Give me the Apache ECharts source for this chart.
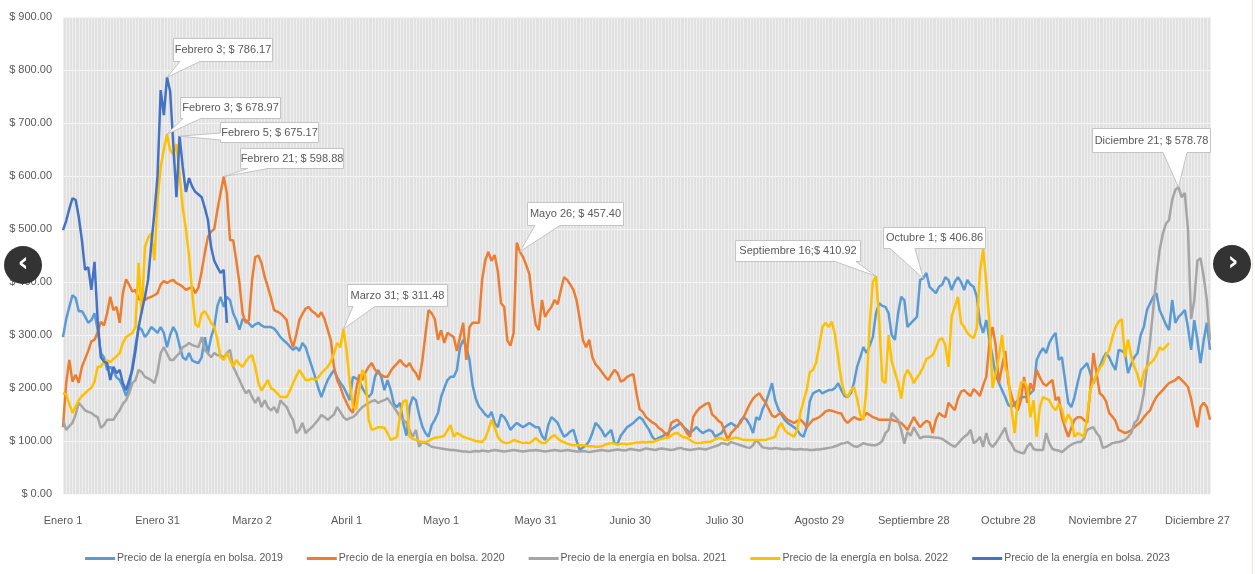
<!DOCTYPE html>
<html><head><meta charset="utf-8">
<script src="https://cdn.jsdelivr.net/npm/echarts@6/dist/echarts.min.js"></script>
<style>html,body{margin:0;padding:0;background:#fff}#c{width:1255px;height:574px}</style>
</head><body><div id="c"></div>
<script>
const monthNames = ['Enero','Febrero','Marzo','Abril','Mayo','Junio','Julio','Agosto','Septiembre','Octubre','Noviembre','Diciembre'];
const monthDays = [31,28,31,30,31,30,31,31,30,31,30,31];
const seriesNames = ['Precio de la energía en bolsa. 2019','Precio de la energía en bolsa. 2020','Precio de la energía en bolsa. 2021','Precio de la energía en bolsa. 2022','Precio de la energía en bolsa. 2023'];
const seriesColors = ['#5B9BD5','#ED7D31','#A5A5A5','#FFC000','#4472C4'];
const yTicks = [0,100,200,300,400,500,600,700,800,900];

const y2019 = [
296,330,353,375,370,345,345,335,323,328,
341,310,266,258,234,240,232,220,215,202,
185,200,240,280,315,310,296,304,315,310,
304,315,304,277,300,315,304,280,258,253,
266,252,249,247,258,296,266,296,315,355,
372,353,372,366,341,328,310,330,328,322,
315,320,323,318,315,315,315,312,305,296,
290,285,278,272,277,270,285,277,258,240,
221,200,183,200,215,225,234,220,210,202,
190,177,221,218,215,200,190,183,190,221,
234,221,196,215,196,170,164,172,134,110,
165,183,177,150,128,115,108,130,140,153,
183,200,215,221,221,234,277,291,277,253,
205,180,165,158,150,145,155,134,126,150,
145,135,121,128,134,130,126,130,134,130,
126,126,110,102,130,145,140,134,120,108,
112,118,121,100,83,88,92,100,115,134,
128,120,108,115,121,96,95,110,118,126,
130,134,140,145,140,130,121,108,102,106,
108,112,115,122,126,130,134,126,121,115,
120,126,120,115,118,121,118,108,112,115,
126,130,134,130,126,138,145,140,130,115,
145,140,160,172,190,209,177,160,150,140,
134,130,126,121,112,108,126,175,190,193,
196,190,193,196,196,200,209,196,185,183,
190,209,240,258,277,266,280,296,341,360,
355,353,341,300,291,340,372,366,315,322,
328,334,404,406.86,417,391,385,379,391,395,
409,404,385,400,409,400,385,404,395,391,
372,323,304,328,291,258,225,210,196,183,
168,164,170,177,182,183,183,190,196,253,
266,275,266,285,296,304,253,258,215,172,
164,183,210,234,240,247,228,209,225,240,
255,266,258,245,234,272,270,266,228,245,
258,266,300,315,347,360,372,379,347,334,
320,309,366,323,334,340,347,315,272,328,
291,247,290,323,272];

const y2020 = [
126,209,253,212,225,210,240,255,270,288,
291,305,325,318,341,372,347,353,323,379,
405,395,382,385,368,366,366,370,372,375,
379,395,402,398,402,404,398,395,391,385,
388,391,379,390,420,455,485,495,500,536,
568,598.88,568,479,479,440,398,341,323,328,
404,447,450,436,410,391,370,347,344,341,
335,328,296,277,300,328,340,350,353,345,
341,334,343,330,310,290,240,215,202,185,
172,160,153,196,225,215,230,240,247,235,
228,225,221,221,232,240,246,253,245,240,
247,235,228,215,250,300,347,341,330,291,
309,285,304,300,296,270,296,323,253,315,
323,323,323,404,441,457,440,451,420,360,
353,290,280,304,474,457.40,447,432,415,360,
320,309,366,334,345,353,366,358,385,409,
404,395,385,365,330,290,277,291,258,245,
238,230,222,215,225,234,228,212,215,221,
224,226,190,160,155,145,140,135,132,125,
121,115,108,134,138,140,133,126,115,108,
145,155,162,166,170,172,150,145,138,134,
118,102,115,121,128,134,145,158,170,180,
186,190,180,172,160,148,145,150,153,146,
140,137,134,138,140,135,126,133,140,142,
145,150,156,158,157,155,153,152,140,134,
140,145,142,140,145,153,149,145,143,140,
140,140,140,140,138,136,134,128,121,133,
145,135,126,133,138,135,115,140,153,148,
145,172,165,158,180,193,196,190,185,198,
192,185,205,221,285,315,280,209,240,270,
210,185,168,158,177,221,172,209,196,234,
220,209,204,210,215,177,183,145,125,108,
125,140,145,145,140,134,196,266,228,190,
185,175,153,146,138,121,118,115,117,120,
126,131,136,145,152,158,172,183,190,196,
203,209,212,215,221,215,209,202,180,150,
126,164,172,164,140];

const y2021 = [
140,121,128,134,150,172,165,158,155,153,
148,145,125,130,140,140,140,150,158,170,
177,190,209,215,234,230,221,218,215,209,
230,266,277,265,253,253,260,266,277,280,
285,281,279,277,296,272,265,258,266,262,
262,257,266,272,240,228,215,202,190,196,
183,172,183,164,177,164,158,164,153,177,
170,164,150,140,115,121,134,115,121,126,
133,140,149,145,140,145,150,164,155,145,
140,143,145,150,158,164,168,172,175,177,
172,175,177,181,172,164,155,145,140,134,
120,108,121,89,98,96,93,89,88,87,
86,85,84,83,83,82,81,80,80,79,
80,81,80,82,81,80,82,83,82,81,
80,81,82,83,82,81,80,81,82,82,
83,82,81,80,81,82,83,82,81,82,
83,82,81,80,80,81,80,79,80,81,
82,83,82,81,82,83,84,83,82,83,
85,84,83,82,84,86,85,84,83,85,
86,85,84,83,84,86,87,85,84,83,
84,85,86,85,84,86,88,90,92,96,
95,93,98,96,94,92,90,88,87,92,
102,95,88,87,86,86,87,86,85,85,
86,85,84,84,85,84,84,83,83,84,
84,85,86,87,88,90,92,95,96,98,
94,90,89,92,96,94,93,92,92,95,
100,115,121,153,146,140,121,95,117,110,
126,115,105,108,108,108,107,106,106,104,
100,96,92,89,95,102,108,112,121,96,
100,108,89,115,95,89,96,105,115,125,
102,95,83,80,78,77,90,96,85,83,
83,83,115,96,85,83,82,79,84,89,
93,96,98,98,105,121,124,126,115,108,
87,89,92,96,97,98,100,102,108,115,
134,140,160,190,240,290,350,410,460,490,
510,517,555,574,578.78,560,568,500,330,365,
440,445,410,366,290];

const y2022 = [
190,188,170,153,165,177,185,190,196,200,
212,240,240,250,252,249,255,260,266,285,
296,300,304,315,436,340,466,483,492,441,
555,617,650,678.97,649,640,660,600,540,500,
450,380,320,315,340,345,335,323,315,291,
258,253,266,253,240,253,245,240,250,258,
262,240,210,195,205,215,200,196,190,183,
183,183,195,209,222,234,225,215,215,218,
215,220,228,234,240,250,265,285,277,311.48,
270,210,165,160,196,234,221,140,121,123,
126,126,125,115,102,105,108,150,175,177,
108,104,102,100,98,98,100,104,106,107,
108,110,120,130,108,115,112,108,106,104,
102,100,99,98,105,121,140,125,108,100,
97,96,98,102,100,98,96,97,96,100,
106,100,96,96,102,108,111,105,100,98,
95,93,92,92,92,92,91,90,90,89,
89,90,93,95,96,95,93,95,95,94,
95,96,97,97,98,97,98,98,100,102,
104,106,106,110,114,115,110,107,106,102,
98,96,96,97,98,98,100,103,106,105,
102,102,104,106,106,104,102,102,102,102,
102,102,102,102,104,106,108,125,134,121,
115,112,108,120,153,175,196,230,234,248,
280,315,323,315,325,300,258,215,190,183,
195,202,180,150,140,200,320,400,410.92,330,
215,209,300,250,230,210,180,221,234,225,
209,220,228,240,255,258,262,275,291,294,
281,240,334,353,372,323,315,304,298,294,
313,420,462,400,323,200,228,258,300,240,
221,160,115,177,210,212,202,145,177,108,
164,183,180,177,165,158,170,160,134,150,
140,108,115,112,108,145,196,212,225,238,
245,262,272,295,315,325,330,258,291,260,
240,225,202,230,240,247,252,262,277,272,
278,285];

const y2023 = [
498,515,538,558,555,523,479,423,428,385,
438,328,258,250,247,215,240,228,234,209,
196,215,234,270,315,345,372,404,470,530,
600,762,715,786.17,760,660,560,675.17,617,570,
596,580,570,565,560,540,517,466,440,428,
417,423,323];

// callout annotations: series index, category index, label text
const calloutSeries = [4,3,4,1,3,1,3,0,2];
const calloutIndex  = [33,33,37,51,89,145,258,273,354];
const calloutText = ['Febrero 3; $ 786.17','Febrero 3; $ 678.97','Febrero 5; $ 675.17','Febrero 21; $ 598.88','Marzo 31; $ 311.48','Mayo 26; $ 457.40','Septiembre 16;$ 410.92','Octubre 1; $ 406.86','Diciembre 21; $ 578.78'];
// layout of callout boxes (pixels) and tail base
const calloutLayout = [
  {box:[173,38,99,23], side:'bottom', base:[180,200]},
  {box:[180,97,100,21], side:'bottom', base:[183,201]},
  {box:[220,122,98,20], side:'left', base:[133,140]},
  {box:[240,148,103,20], side:'bottom', base:[248,268]},
  {box:[347,284,100,22], side:'bottom', base:[353,375]},
  {box:[527,202,96,23], side:'bottom', base:[535,560]},
  {box:[735,240,125,21], side:'bottom', base:[835,856]},
  {box:[883,227,102,21], side:'bottom', base:[890,915]},
  {box:[1092,128,118,24], side:'bottom', base:[1163,1187]}
];

const days = [];
monthNames.forEach((m, i) => { for (let d = 1; d <= monthDays[i]; d++) days.push(m + ' ' + d); });

const FONT = "'Liberation Sans',Arial,sans-serif";
const TXT = '#595959';
const allData = [y2019, y2020, y2021, y2022, y2023];

const chart = echarts.init(document.getElementById('c'), null, {renderer: 'canvas'});
chart.setOption({
  animation: false,
  backgroundColor: '#ffffff',
  textStyle: {fontFamily: FONT},
  grid: {left: 63, right: 45, top: 17, bottom: 80, show: true, backgroundColor: '#e1e1e1', borderWidth: 0},
  legend: {
    top: 548, left: 'center', itemGap: 24, itemWidth: 30, itemHeight: 3, icon: 'rect',
    textStyle: {color: TXT, fontSize: 10.5, fontFamily: FONT, padding: [0, 0, 0, -3]},
    data: seriesNames
  },
  xAxis: {
    type: 'category', data: days, boundaryGap: false,
    axisLine: {show: false}, axisTick: {show: false},
    axisLabel: {interval: 29, color: TXT, fontSize: 11, margin: 21, fontFamily: FONT},
    splitLine: {show: true, interval: 0, lineStyle: {color: '#efefef', width: 1}}
  },
  yAxis: {
    type: 'value', min: yTicks[0], max: yTicks[yTicks.length - 1], interval: 100,
    axisLine: {show: false}, axisTick: {show: false},
    axisLabel: {color: TXT, fontSize: 11, margin: 11, fontFamily: FONT, formatter: v => '$ ' + v.toFixed(2)},
    splitLine: {show: true, lineStyle: {color: '#f7f7f7', width: 1}}
  },
  series: seriesNames.map((n, i) => ({
    name: n, type: 'line', data: allData[i], symbol: 'none',
    lineStyle: {width: 2.5, color: seriesColors[i]}, itemStyle: {color: seriesColors[i]},
    z: 2 + i
  }))
});

const g = [];
calloutSeries.forEach((s, k) => {
  const p = chart.convertToPixel({seriesIndex: s}, [calloutIndex[k], allData[s][calloutIndex[k]]]);
  const L = calloutLayout[k];
  const x0 = L.box[0] + 0.5, y0 = L.box[1] + 0.5, x1 = x0 + L.box[2], y1 = y0 + L.box[3];
  let pts;
  if (L.side === 'left') pts = [[x0,y0],[x1,y0],[x1,y1],[x0,y1],[x0,L.base[1]],p,[x0,L.base[0]]];
  else pts = [[x0,y0],[x1,y0],[x1,y1],[L.base[1],y1],p,[L.base[0],y1],[x0,y1]];
  g.push({type: 'polygon', shape: {points: pts}, style: {fill: '#ffffff', stroke: '#c4c4c4', lineWidth: 1}, z: 100});
  g.push({type: 'text', x: (x0 + x1) / 2, y: (y0 + y1) / 2, z: 101,
    style: {text: calloutText[k], fill: TXT, fontSize: 11, fontFamily: FONT, align: 'center', verticalAlign: 'middle'}});
});
// carousel arrows and page edge
g.push({type: 'circle', shape: {cx: 23, cy: 265, r: 19}, style: {fill: '#333333'}, z: 110});
g.push({type: 'text', x: 23, y: 264, z: 111, style: {text: '‹', fill: '#ffffff', fontSize: 26, fontWeight: 'bold', fontFamily: 'DejaVu Sans', align: 'center', verticalAlign: 'middle'}});
g.push({type: 'circle', shape: {cx: 1232, cy: 264, r: 19}, style: {fill: '#333333'}, z: 110});
g.push({type: 'text', x: 1233, y: 263, z: 111, style: {text: '›', fill: '#ffffff', fontSize: 26, fontWeight: 'bold', fontFamily: 'DejaVu Sans', align: 'center', verticalAlign: 'middle'}});
g.push({type: 'line', shape: {x1: 1252.5, y1: 0, x2: 1252.5, y2: 574}, style: {stroke: '#f5e1d6', lineWidth: 1}, z: 1});
chart.setOption({graphic: g});
</script>
</body></html>
